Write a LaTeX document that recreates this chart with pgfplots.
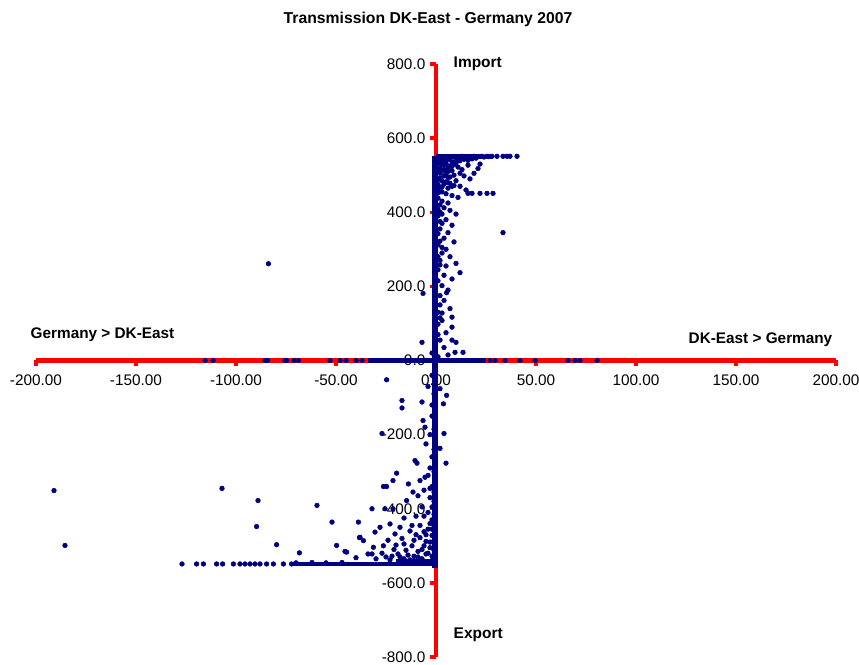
\documentclass[border=0pt]{standalone}
\usepackage{pgfplots}
\pgfplotsset{compat=1.18}
\usepackage{fontspec}
\setmainfont{Liberation Sans}
\definecolor{dotblue}{RGB}{0,0,128}
\definecolor{axred}{RGB}{255,0,0}

\begin{document}
\begin{tikzpicture}
\begin{axis}[
    scale only axis,
    width=600pt, height=444.75pt,
    axis lines=middle,
    axis line style={-, axred, line width=3.4pt},
    xmin=-200, xmax=200,
    ymin=-800, ymax=800,
    enlargelimits=false,
    xtick={-200,-150,-100,-50,0,50,100,150,200},
    ytick={-800,-600,-400,-200,0,200,400,600,800},
    hide obscured x ticks=false,
    hide obscured y ticks=false,
    tick align=outside,
    major tick length=4.5pt,
    tick style={axred, line width=2.6pt},
    ticklabel style={font=\fontsize{11.5}{13}\selectfont},
    xticklabel style={yshift=-2.5pt, /pgf/number format/.cd, fixed, fixed zerofill, precision=2, assume math mode=true},
    yticklabel style={/pgf/number format/.cd, fixed, fixed zerofill, precision=1, assume math mode=true},
    clip=false,
]

% dense bands where hourly points pile up
\addplot[dotblue, line width=4.4pt] coordinates {(-0.4,-561) (-0.4,553)};
\addplot[dotblue, line width=3.6pt] coordinates {(0,551) (23,551)};
\addplot[dotblue, line width=3.2pt] coordinates {(-73,-549) (0,-549)};
\addplot[dotblue, line width=4.5pt] coordinates {(-20,-543) (0,-543)};
\addplot[dotblue, line width=3.2pt] coordinates {(-34,0) (25,0)};

% single hours
\addplot[only marks, mark=*, mark size=1.75pt, color=dotblue] coordinates {
    % import, upper part
    (1,548) (3,546) (5,549) (7,547) (9,550) (11,548) (13,551) (15,549) (17,550) (19,551)
    (21,550) (23,551) (2,540) (4,538) (6,542) (8,536) (10,541) (12,539) (14,543) (16,540)
    (18,544) (20,546) (25.5,551) (28,551) (30.5,551) (33.5,551) (35.5,551) (37,551) (40.5,551) (26.5,550) (24,549)
    (1,530) (3,528) (5,532) (7,525) (9,529) (2,518) (4,515) (6,520) (8,512) (11,522)
    (13,515) (16,527) (12,505) (2,505) (4,498) (6,494) (9,500) (14,498) (17,490) (19,505)
    (21,518) (1,488) (3,485) (5,482) (7,478) (10,485) (22,530)
    (2,535) (4,527) (6,510) (8,524) (10,533) (3,512) (5,503) (7,495) (1,510) (2,492)
    (4,476) (1,465) (3,455) (6,480) (8,470) (1,452) (2,420) (1,408) (3,395) (2,375)
    (1,342) (2,322) (3,305) (1,280) (2,258) (1,215) (2,175) (1,130) (2,115) (1,70)
    (1,475) (3,468) (6,465) (9,472) (12,470) (15,460) (2,455) (5,450) (8,445) (11,440)
    (16,451) (18,451) (22,451) (25.5,451) (28.5,451) (1,438) (3,430) (6,425) (4,412) (7,405) (2,400) (10,395)
    (1,390) (5,380) (3,370) (8,365) (2,355) (6,345) (33.5,345) (4,330) (9,320) (1,312)
    (5,300) (3,290) (7,280) (2,270) (10,262) (5,255) (12,237) (1,245) (4,230) (8,220)
    (3,202) (6,190) (-6.5,181) (5.3,183)
    (4,162) (2,150) (7,140) (3,128) (8,117) (3,108) (1,98) (8,90) (5,75) (2,55)
    (8,55) (10,49) (-7,49) (4,35) (13.5,22) (9.5,22) (6,15) (-2,20) (1,10)
    (-83.8,261)
    % on the zero line
    (-115.5,0) (-111.5,0) (-85.5,0) (-84.3,0) (-75.5,0) (-74.7,0) (-71,0) (-68.8,0)
    (-53,0) (-48,0) (-45,0) (-40,0) (-37,0)
    (27,0) (29.5,0) (34.5,0) (42,0) (49.5,0) (66,0) (69.5,0) (72,0) (80.5,0)
    % export, lower part
    (-24.7,-52) (2,-76) (5.3,-94) (3.7,-117) (-17,-108) (-17,-128) (-7,-112) (-2,-40) (-4,-70)
    (-27,-197) (-6.5,-162) (-5.5,-180) (-5,-225) (-2,-150) (-3,-200) (4,-197) (2,-237) (5,-277)
    (-10.5,-270) (-9.5,-277) (-19.7,-304) (-21.5,-324) (-26.3,-340) (-24.7,-340) (-13.8,-333)
    (-8,-324) (-5.5,-315) (-4,-310) (-3,-290) (-2,-260) (-6,-350) (-3,-370) (-9,-365)
    (-32,-400) (-25.5,-400) (-21.5,-400) (-14.7,-378) (-11.5,-355) (-7,-395) (-4,-410)
    (-2,-430) (-10,-420) (-16,-425)
    (-38.8,-436) (-28,-450) (-30.5,-463) (-23,-441) (-20.5,-468) (-18,-450) (-38,-477)
    (-36.3,-486) (-31.3,-504) (-44.7,-517) (-26.3,-500) (-13,-460) (-8,-445) (-5,-470)
    (-2,-455) (-11,-485) (-16,-495) (-6,-500) (-3,-490) (-21,-510) (-9,-515) (-14,-525)
    (-4,-520) (-18,-530) (-25,-530) (-7,-535) (-2,-540) (-11,-540) (-30,-535) (-34,-522)
    (-1,-380) (-2,-395) (-1,-415) (-3,-440) (-1,-445) (-4,-455) (-6,-462) (-2,-472)
    (-1,-485) (-5,-488) (-8,-478) (-10,-470) (-12,-500) (-3,-505) (-1,-512) (-7,-510)
    (-5,-522) (-11,-528) (-15,-512) (-19,-522) (-2,-528) (-9,-530) (-13,-538) (-23,-538)
    (-16,-535) (-20,-498) (-24,-485) (-27,-520) (-1,-355) (-2,-340) (-1,-300) (-1,-240)
    (-1,-185) (-2,-120) (-1,-90) (-3,-345) (-6,-420) (-12,-445) (-17,-480) (-22,-528)
    (-191,-351) (-185.5,-499) (-107,-345) (-89,-378) (-89.7,-448) (-79.7,-497) (-68.3,-519)
    (-59.5,-391) (-52,-436) (-49.7,-499) (-45.5,-515) (-38.3,-478) (-40,-532) (-32,-522)
    % export at the limit
    (-127,-549) (-119.7,-549) (-116.3,-549) (-109.7,-549) (-106.7,-549) (-101.3,-549)
    (-98,-549) (-95.5,-549) (-93,-549) (-90.5,-549) (-88,-549) (-84.7,-549) (-81.3,-549)
    (-76.3,-549) (-72.2,-549) (-70,-546) (-62,-545) (-55,-546) (-47,-545)
};

\node[font=\bfseries\fontsize{11.8}{13}\selectfont] at (axis cs:-4,921) {Transmission DK-East - Germany 2007};
\node[font=\bfseries\fontsize{11.6}{13}\selectfont, anchor=west] at (axis cs:6.5,801) {Import};
\node[font=\bfseries\fontsize{11.6}{13}\selectfont, anchor=west] at (axis cs:6.5,-739) {Export};
\node[font=\bfseries\fontsize{11.5}{13}\selectfont, anchor=west] at (axis cs:-205,70) {Germany > DK-East};
\node[font=\bfseries\fontsize{11.5}{13}\selectfont, anchor=east] at (axis cs:200.5,57) {DK-East > Germany};
\end{axis}
\pgfresetboundingbox
\path[use as bounding box] ([xshift=-27pt,yshift=-5.25pt]current axis.south west)
    rectangle ([xshift=17.25pt,yshift=48pt]current axis.north east);
\end{tikzpicture}
\end{document}
